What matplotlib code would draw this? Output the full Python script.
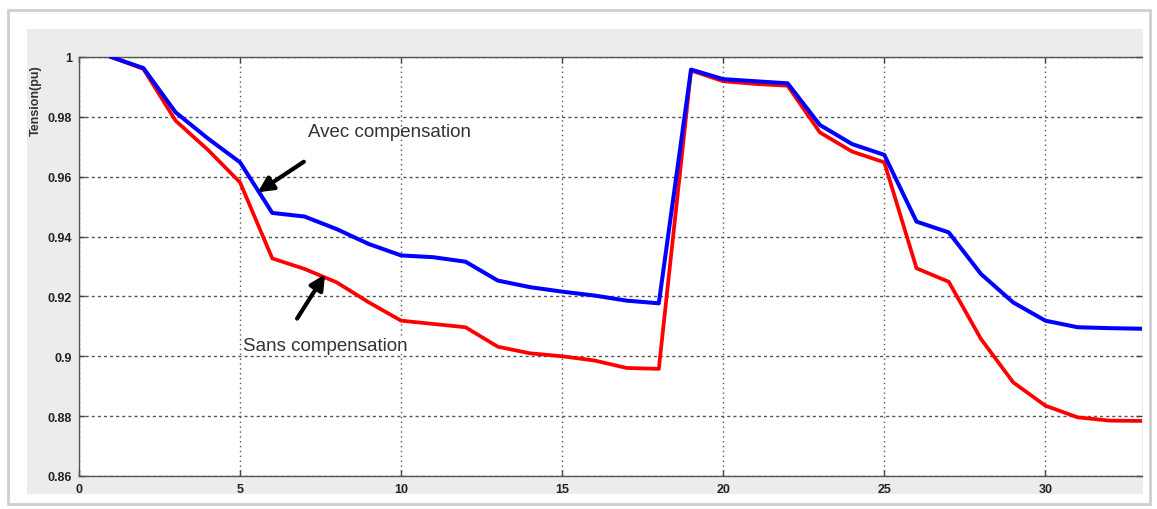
import matplotlib.pyplot as plt
from matplotlib.patches import Rectangle

# bus voltage profile, 33 buses
buses = list(range(1, 34))
v_sans = [1.0, 0.996, 0.9787, 0.9690, 0.9581, 0.9327, 0.9292, 0.9247, 0.9180, 0.9119,
          0.9108, 0.9097, 0.9032, 0.9010, 0.9000, 0.8986, 0.8961, 0.8958, 0.9955, 0.9919,
          0.9910, 0.9904, 0.9748, 0.9684, 0.9648, 0.9294, 0.9249, 0.9058, 0.8913, 0.8835,
          0.8796, 0.8785, 0.8784]
v_avec = [1.0, 0.9963, 0.9815, 0.9728, 0.9648, 0.9479, 0.9467, 0.9425, 0.9375, 0.9337,
          0.9331, 0.9316, 0.9253, 0.9231, 0.9216, 0.9203, 0.9186, 0.9177, 0.9958, 0.9926,
          0.9919, 0.9912, 0.9773, 0.9709, 0.9673, 0.9450, 0.9414, 0.9275, 0.9180, 0.9119,
          0.9097, 0.9094, 0.9092]

xticks = [0, 5, 10, 15, 20, 25, 30]
yticks = [0.86, 0.88, 0.90, 0.92, 0.94, 0.96, 0.98, 1.0]
ytick_labels = ['0.86', '0.88', '0.9', '0.92', '0.94', '0.96', '0.98', '1']

W, H = 1157, 510
fig = plt.figure(figsize=(W / 100, H / 100), dpi=100)
fig.patch.set_facecolor('white')

def px(x0, y0, x1, y1):
    # pixel box (top-left origin) -> figure fraction rect
    return [x0 / W, 1 - y1 / H, (x1 - x0) / W, (y1 - y0) / H]

# outer frame and grey figure panel
r = px(8, 11, 1150, 505)
fig.patches.append(Rectangle(r[:2], r[2], r[3], transform=fig.transFigure,
                             facecolor='white', edgecolor='#cfcfcf', lw=2.0, zorder=-10))
r = px(27, 30, 1143, 495)
fig.patches.append(Rectangle(r[:2], r[2], r[3], transform=fig.transFigure,
                             facecolor='#ececec', edgecolor='none', zorder=-9))

ax = fig.add_axes(px(79, 58, 1142, 477))
ax.set_facecolor('white')

ax.plot(buses, v_sans, color='#ff0000', lw=2.7, zorder=3)
ax.plot(buses, v_avec, color='#0000ff', lw=2.9, zorder=4)

ax.set_xlim(0, 33)
ax.set_ylim(0.86, 1.0)
ax.set_xticks(xticks)
ax.set_yticks(yticks)
ax.set_yticklabels(ytick_labels)

for lab in ax.get_xticklabels() + ax.get_yticklabels():
    lab.set_fontfamily('Liberation Sans')
    lab.set_fontweight('bold')
    lab.set_fontsize(9)
    lab.set_color('#222222')

ax.tick_params(direction='in', length=4, width=1, color='#444444',
               top=True, right=True, pad=5)

# MATLAB style dotted grid
ax.yaxis.grid(True, color='#555555', lw=1, linestyle=(0, (2.2, 2.2)))
ax.xaxis.grid(True, color='#555555', lw=1, linestyle=(0, (1, 2.5)))
ax.set_axisbelow(True)

for s in ['left', 'bottom', 'top']:
    ax.spines[s].set_color('#555555')
    ax.spines[s].set_linewidth(1)
ax.spines['right'].set_visible(False)

fig.text(36 / W, 1 - 101 / H, 'Tension(pu)', rotation=90, ha='center', va='center',
         fontsize=9, fontweight='bold', color='#333333', family='Liberation Sans')

# annotations
arrow = dict(arrowstyle='-|>,head_length=0.9,head_width=0.45', color='black',
             lw=3.0, shrinkA=0, shrinkB=0)
ax.annotate('', xy=(5.55, 0.9548), xytext=(6.98, 0.9650), arrowprops=arrow, zorder=6)
ax.text(7.1, 0.9750, 'Avec compensation', fontsize=13.5, color='#333333',
        family='Liberation Sans', va='center', ha='left', zorder=6)

ax.annotate('', xy=(7.64, 0.9274), xytext=(6.77, 0.9126), arrowprops=arrow, zorder=6)
ax.text(5.1, 0.9037, 'Sans compensation', fontsize=13.5, color='#333333',
        family='Liberation Sans', va='center', ha='left', zorder=6,
        bbox=dict(facecolor='white', edgecolor='none', pad=0.5))

fig.savefig('out.png', dpi=100)
